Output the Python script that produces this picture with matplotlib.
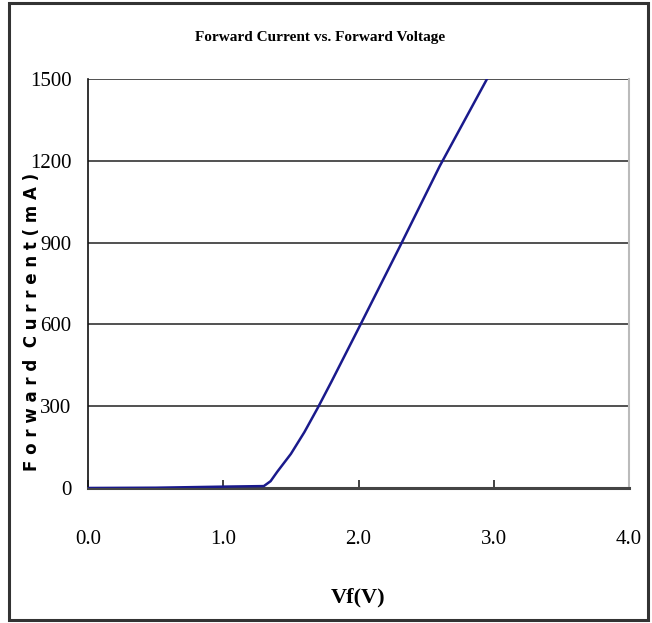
import matplotlib
matplotlib.use("Agg")
import matplotlib.pyplot as plt
from matplotlib.patches import Rectangle

vf = [0.0, 0.5, 1.0, 1.3, 1.35, 1.4, 1.5, 1.6, 1.7, 1.8, 2.0, 2.3, 2.6, 2.95]
current = [0, 1, 5, 7, 25, 60, 125, 205, 295, 390, 585, 880, 1180, 1500]
xticks = [0.0, 1.0, 2.0, 3.0, 4.0]
xticklabels = ["0.0", "1.0", "2.0", "3.0", "4.0"]
yticks = [0, 300, 600, 900, 1200, 1500]
yticklabels = ["0", "300", "600", "900", "1200", "1500"]

W, H = 652, 623
fig = plt.figure(figsize=(W / 100, H / 100), dpi=100)
fig.patch.set_facecolor("white")

# outer frame
fig.patches.append(Rectangle((9 / W, 1 - 620 / H), (648 - 9) / W, (620 - 3) / H,
                             transform=fig.transFigure, fill=False,
                             edgecolor="#333333", linewidth=2.2))

left, right, top, bottom = 88, 629, 79, 488
ax = fig.add_axes([left / W, 1 - bottom / H, (right - left) / W, (bottom - top) / H])

ax.plot(vf, current, color="#1a1a8c", linewidth=1.8, zorder=3)
ax.set_xlim(0, 4.0)
ax.set_ylim(0, 1500)

serif = "Liberation Serif"
ax.set_xticks(xticks)
ax.set_xticklabels(xticklabels, fontfamily=serif, fontsize=15)
ax.set_yticks(yticks)
ax.set_yticklabels(yticklabels, fontfamily=serif, fontsize=15)
ax.tick_params(axis="x", direction="in", length=6, width=1.2, color="#222222", pad=30)
ax.tick_params(axis="y", length=0, pad=12)

for y in yticks[1:]:
    ax.axhline(y, color="#222222", linewidth=1.1, zorder=1)

ax.spines["left"].set_color("#111111")
ax.spines["left"].set_linewidth(1.2)
ax.spines["bottom"].set_color("#444444")
ax.spines["bottom"].set_linewidth(2.2)
ax.spines["right"].set_color("#bbbbbb")
ax.spines["right"].set_linewidth(1.5)
ax.spines["top"].set_visible(False)

fig.text(320 / W, 1 - 38 / H, "Forward Current vs. Forward Voltage",
         ha="center", va="center", fontfamily=serif, fontweight="bold", fontsize=11)
fig.text(358 / W, 1 - 597 / H, "Vf(V)", ha="center", va="center",
         fontfamily=serif, fontweight="bold", fontsize=16)
fig.text(32 / W, 1 - 322 / H, " ".join("Forward") + "  " + " ".join("Current(mA)"),
         ha="center", va="center", rotation=90,
         fontfamily="DejaVu Sans", fontweight="bold", fontsize=12)

fig.savefig("out.png", dpi=100, facecolor="white")
